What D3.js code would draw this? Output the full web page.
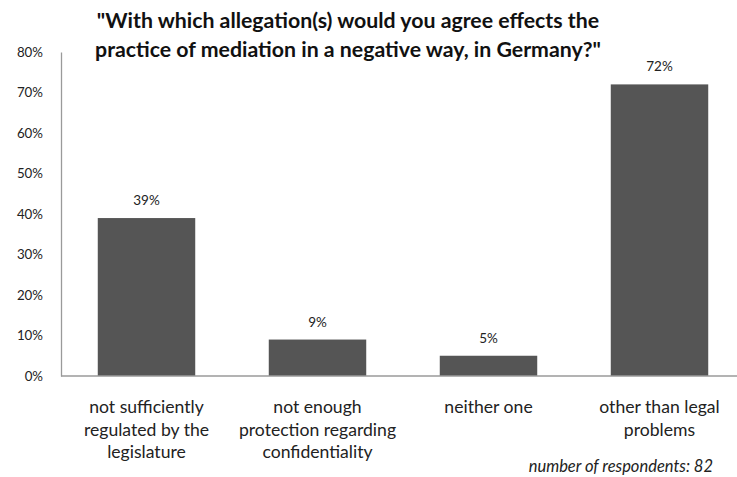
<!DOCTYPE html>
<html>
<head>
<meta charset="utf-8">
<script src="https://cdn.jsdelivr.net/npm/d3@7"></script>
<style>
  html, body { margin: 0; padding: 0; background: #fff; }
  svg { display: block; font-family: Lato, "Open Sans", sans-serif; }
</style>
</head>
<body>
<svg id="chart" width="737" height="477"></svg>
<script>
// Survey answers and their shares (percent of respondents)
const categories = [
  ["not sufficiently", "regulated by the", "legislature"],
  ["not enough", "protection regarding", "confidentiality"],
  ["neither one"],
  ["other than legal", "problems"]
];
const values = [39, 9, 5, 72];
const yTicks = [0, 10, 20, 30, 40, 50, 60, 70, 80];
const titleLines = [
  "\"With which allegation(s) would you agree effects the",
  "practice of mediation in a negative way, in Germany?\""
];
const note = "number of respondents: 82";

const svg = d3.select("#chart");

const x = d3.scaleBand()
  .domain(d3.range(values.length))
  .range([61, 745])
  .paddingInner(0.43)
  .paddingOuter(0.215);

const y = d3.scaleLinear().domain([0, 80]).range([376, 52]);

// Title
svg.append("text")
  .attr("font-size", 21.3)
  .attr("font-weight", "bold")
  .attr("fill", "#111")
  .attr("text-anchor", "middle")
  .selectAll("tspan")
  .data(titleLines)
  .join("tspan")
  .attr("x", 348)
  .attr("y", (d, i) => 28 + i * 29)
  .text(d => d);

// Bars
svg.append("g")
  .selectAll("rect")
  .data(values)
  .join("rect")
  .attr("x", (d, i) => x(i))
  .attr("width", x.bandwidth())
  .attr("y", d => y(d))
  .attr("height", d => y(0) - y(d))
  .attr("fill", "#555555");

// Value labels above bars
svg.append("g")
  .selectAll("text")
  .data(values)
  .join("text")
  .attr("x", (d, i) => x(i) + x.bandwidth() / 2)
  .attr("y", d => y(d) - 13)
  .attr("text-anchor", "middle")
  .attr("font-size", 13.5)
  .attr("fill", "#222")
  .text(d => d + "%");

// Y axis
const yAxis = svg.append("g")
  .attr("transform", "translate(61,0)")
  .call(d3.axisLeft(y).tickValues(yTicks).tickSize(0).tickPadding(18).tickFormat(d => d + "%"));
yAxis.select(".domain").attr("stroke", "#9a9a9a").attr("stroke-width", 1.3);
yAxis.selectAll("text")
  .attr("font-family", "Lato, sans-serif")
  .attr("font-size", 13.3)
  .attr("fill", "#222");

// X axis baseline
svg.append("line")
  .attr("x1", 61).attr("x2", 737)
  .attr("y1", y(0)).attr("y2", y(0))
  .attr("stroke", "#9a9a9a").attr("stroke-width", 1.3);

// Category labels
svg.append("g")
  .selectAll("text")
  .data(categories)
  .join("text")
  .attr("text-anchor", "middle")
  .attr("font-size", 17.6)
  .attr("fill", "#222")
  .each(function (lines, i) {
    d3.select(this).selectAll("tspan")
      .data(lines)
      .join("tspan")
      .attr("x", x(i) + x.bandwidth() / 2)
      .attr("y", (d, j) => 413 + j * 22.5)
      .text(d => d);
  });

// Respondent count note
svg.append("text")
  .attr("x", 713)
  .attr("y", 472)
  .attr("text-anchor", "end")
  .attr("font-size", 16.5)
  .attr("font-style", "italic")
  .attr("fill", "#222")
  .text(note);
</script>
</body>
</html>
